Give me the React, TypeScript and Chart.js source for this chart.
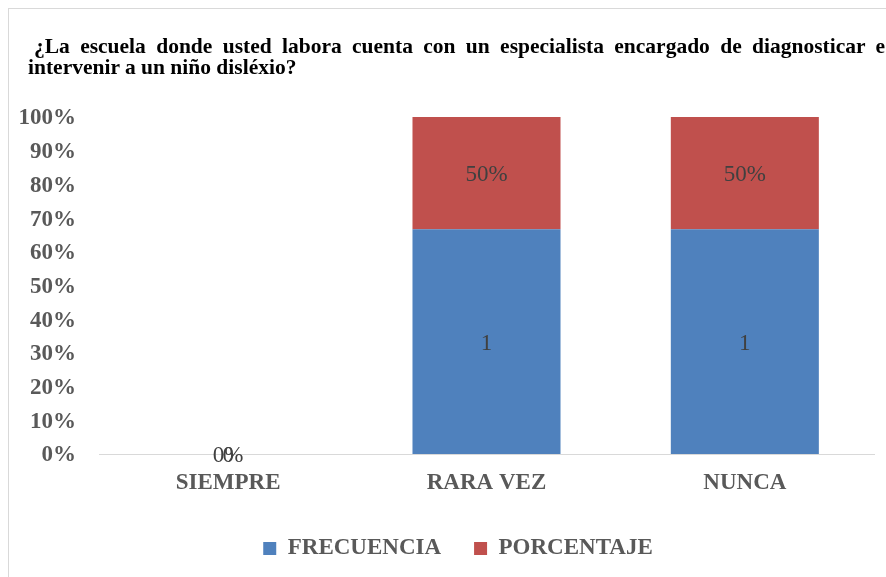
import React, { useEffect, useRef } from "react";
import { Chart, registerables } from "chart.js";

Chart.register(...registerables);

const categories = ["SIEMPRE", "RARA VEZ", "NUNCA"];
const frecuencia = [0, 1, 1];
const porcentaje = [0, 0.5, 0.5];
const yTickLabels = ["0%", "10%", "20%", "30%", "40%", "50%", "60%", "70%", "80%", "90%", "100%"];
const seriesNames = ["FRECUENCIA", "PORCENTAJE"];
const seriesColors = ["#4F81BD", "#C0504D"];
const titleLine1 = "¿La escuela donde usted labora cuenta con un especialista encargado de diagnosticar e";
const titleLine2 = "intervenir a un niño disléxio?";

const FONT = "'Liberation Serif', 'Times New Roman', serif";

function share(a: number[], b: number[], which: number): number[] {
  return a.map((v, i) => {
    const t = a[i] + b[i];
    if (!t) return 0;
    return ((which === 0 ? a[i] : b[i]) / t) * 100;
  });
}

const labelPlugin = {
  id: "valueLabels",
  afterDatasetsDraw(chart: any) {
    const ctx = chart.ctx;
    ctx.save();
    ctx.font = `23px ${FONT}`;
    ctx.fillStyle = "#404040";
    ctx.textAlign = "center";
    ctx.textBaseline = "middle";
    chart.data.datasets.forEach((_ds: any, di: number) => {
      const meta = chart.getDatasetMeta(di);
      meta.data.forEach((el: any, i: number) => {
        const raw = di === 0 ? frecuencia[i] : porcentaje[i];
        const txt = di === 0 ? String(raw) : Math.round(raw * 100) + "%";
        const p = el.getProps(["x", "y", "base"], true);
        ctx.fillText(txt, p.x, (p.y + p.base) / 2 + 2);
      });
    });
    ctx.restore();
  },
};

const legendShift = {
  id: "legendShift",
  afterLayout(chart: any) {
    if (chart.legend) {
      chart.legend.left += 17;
      chart.legend.right += 17;
    }
  },
};

export default function App() {
  const ref = useRef<HTMLCanvasElement | null>(null);
  useEffect(() => {
    if (!ref.current) return;
    const chart = new Chart(ref.current, {
      type: "bar",
      data: {
        labels: categories,
        datasets: [
          {
            label: seriesNames[0],
            data: share(frecuencia, porcentaje, 0),
            backgroundColor: seriesColors[0],
            categoryPercentage: 1,
            barPercentage: 0.573,
          },
          {
            label: seriesNames[1],
            data: share(frecuencia, porcentaje, 1),
            backgroundColor: seriesColors[1],
            categoryPercentage: 1,
            barPercentage: 0.573,
          },
        ],
      },
      options: {
        animation: false,
        responsive: false,
        layout: { padding: { left: 8, right: 12, top: 117, bottom: 7 } },
        plugins: {
          tooltip: { enabled: false },
          legend: {
            position: "bottom",
            labels: {
              boxWidth: 13,
              boxHeight: 13,
              padding: 33,
              color: "#595959",
              font: { family: FONT, size: 23, weight: "bold" },
            },
          },
        },
        scales: {
          x: {
            stacked: true,
            grid: { display: false, drawTicks: false },
            border: { display: true, color: "#D9D9D9", width: 1 },
            ticks: {
              color: "#595959",
              padding: 15,
              font: { family: FONT, size: 23, weight: "bold" },
            },
            afterFit: (s: any) => {
              s.height = 50;
            },
          },
          y: {
            stacked: true,
            min: 0,
            max: 100,
            grid: { display: false, drawTicks: false },
            border: { display: false },
            ticks: {
              stepSize: 10,
              color: "#595959",
              padding: 23,
              labelOffset: 1.5,
              font: { family: FONT, size: 23, weight: "bold" },
              callback: (_v: any, i: number) => yTickLabels[i],
            },
            afterFit: (s: any) => {
              s.width = 91;
            },
          },
        },
      } as any,
      plugins: [labelPlugin, legendShift],
    });
    return () => chart.destroy();
  }, []);

  return (
    <>
      <div
        style={{
          position: "fixed",
          left: 8,
          top: 8,
          width: 1000,
          height: 1000,
          borderLeft: "1px solid #D9D9D9",
          borderTop: "1px solid #D9D9D9",
        }}
      />
      <div
        style={{
          position: "fixed",
          left: 28,
          top: 36,
          width: 857,
          fontFamily: FONT,
          fontWeight: "bold",
          fontSize: 21.5,
          lineHeight: "21px",
          color: "#000",
        }}
      >
        <div style={{ textAlign: "justify", textAlignLast: "justify", paddingLeft: 6 }}>{titleLine1}</div>
        <div>{titleLine2}</div>
      </div>
      <canvas
        ref={ref}
        width={886}
        height={577}
        style={{ position: "fixed", left: 0, top: 0, width: 886, height: 577 }}
      />
    </>
  );
}
